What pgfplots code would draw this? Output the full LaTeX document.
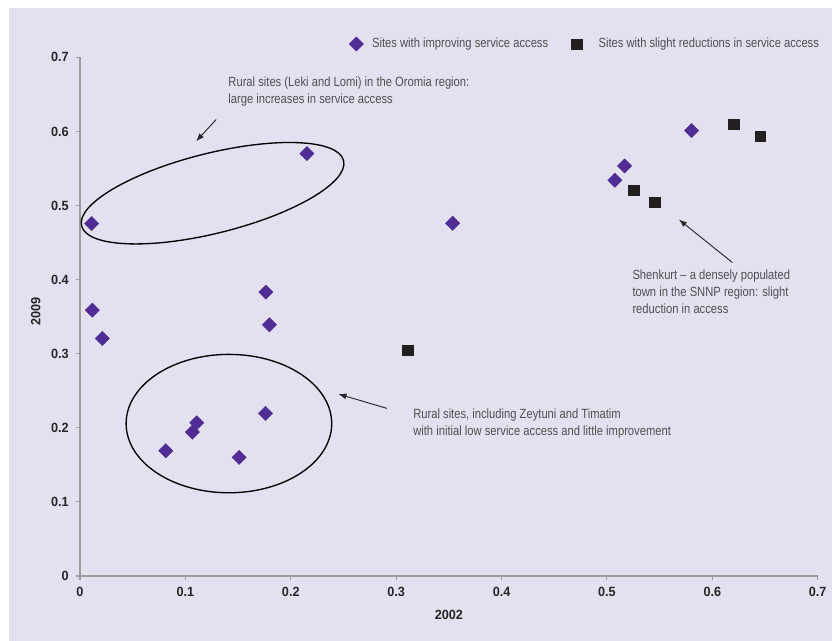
\documentclass[border=0pt]{standalone}
\usepackage{fontspec}
\setmainfont{Liberation Sans}
\newfontfamily\cond[FakeStretch=0.84]{Liberation Sans}
\newfontfamily\tickf[FakeStretch=0.95]{Liberation Sans}
\usepackage{pgfplots}
\pgfplotsset{compat=1.18}
\usetikzlibrary{arrows.meta}
\definecolor{bg}{RGB}{227,224,239}
\definecolor{purp}{RGB}{80,45,148}
\definecolor{blk}{RGB}{35,31,32}
\definecolor{axgray}{RGB}{155,155,155}
\definecolor{txt}{RGB}{80,80,80}
\begin{document}
\begin{tikzpicture}
\fill[white] (-60pt,-48.75pt) rectangle (564pt,432pt);
\fill[bg] (-53.25pt,-48.75pt) rectangle (564pt,426pt);
\begin{axis}[
  scale only axis, width=553.3pt, height=389pt,
  xmin=0, xmax=0.7, ymin=0, ymax=0.7,
  axis x line*=bottom, axis y line*=left,
  axis line style={axgray, line width=1.1pt},
  xtick={0,0.1,0.2,0.3,0.4,0.5,0.6,0.7},
  ytick={0,0.1,0.2,0.3,0.4,0.5,0.6,0.7},
  tick align=outside, major tick length=3pt,
  tick style={axgray, line width=0.8pt},
  /pgf/number format/.cd, fixed, precision=1, assume math mode=true, /pgfplots/.cd,
  ticklabel style={font=\tickf\bfseries\fontsize{10}{12}\selectfont, text=black!85},
  yticklabel style={xshift=-2pt},
  xticklabel style={yshift=-1.5pt},
  xlabel={2002}, ylabel={2009},
  label style={font=\tickf\bfseries\fontsize{10}{12}\selectfont, text=black!85},
  xlabel style={at={(axis description cs:0.5,-0.0752)}, anchor=center},
  ylabel style={at={(axis description cs:-0.060,0.5095)}, anchor=center, rotate=0},
  clip=false,
  legend columns=2, legend cell align=left,
  legend style={draw=none, fill=none, at={(0.3592,1.0257)}, anchor=west,
    font=\cond\fontsize{10}{12}\selectfont, text=txt,
    /tikz/every odd column/.append style={column sep=4.5pt},
    /tikz/every even column/.append style={column sep=15.5pt}},
]
\addplot[only marks, mark=square*, mark size=3.75pt, color=purp,
  mark options={rotate=45, fill=purp, draw=purp}] coordinates {
  (0.0111,0.4757) (0.2153,0.5701) (0.0117,0.3588) (0.0212,0.3206)
  (0.1764,0.3831) (0.1798,0.3390) (0.0814,0.1690) (0.1067,0.1942)
  (0.1108,0.2068) (0.1510,0.1601) (0.1760,0.2195) (0.3536,0.4761)
  (0.5075,0.5341) (0.5167,0.5534) (0.5803,0.6012)
};
\addlegendentry{Sites with improving service access}
\addplot[only marks, mark=square*, mark size=3.9pt, color=blk,
  mark options={fill=blk, draw=blk}] coordinates {
  (0.3109,0.3044) (0.5255,0.5202) (0.5455,0.5040) (0.6205,0.6093) (0.6452,0.5931)
};
\addlegendentry{\hspace*{6pt}Sites with slight reductions in service access}
% ellipses
\draw[black, line width=1pt, rotate around={14:(axis cs:0.1258,0.5166)}]
  (axis cs:0.1258,0.5166) ellipse [x radius=101.25pt, y radius=30pt];
\draw[black, line width=1pt]
  (axis cs:0.1413,0.2057) ellipse [x radius=77.1pt, y radius=51.9pt];
% arrows
\draw[black!85, line width=0.7pt, -{Latex[length=6pt,width=4.5pt]}]
  (axis cs:0.1292,0.6160) -- (axis cs:0.1102,0.5867);
\draw[black!85, line width=0.7pt, -{Latex[length=6pt,width=4.5pt]}]
  (axis cs:0.2913,0.2262) -- (axis cs:0.2453,0.2455);
\draw[black!85, line width=0.7pt, -{Latex[length=6pt,width=4.5pt]}]
  (axis cs:0.6190,0.4231) -- (axis cs:0.5682,0.4811);
% annotations
\begin{scope}[every node/.style={anchor=base west, inner sep=0pt, text=txt,
    font=\cond\fontsize{10}{12}\selectfont}]
\node at (axis cs:0.1406,0.6609) {Rural sites (Leki and Lomi) in the Oromia region:};
\node at (axis cs:0.1406,0.6380) {large increases in service access};
\node at (axis cs:0.3160,0.2122) {Rural sites, including Zeytuni and Timatim};
\node at (axis cs:0.3160,0.1898) {with initial low service access and little improvement};
\node at (axis cs:0.5240,0.4002) {Shenkurt – a densely populated};
\node at (axis cs:0.5240,0.3767) {town in the SNNP region: slight};
\node at (axis cs:0.5240,0.3538) {reduction in access};
\end{scope}
\end{axis}
\pgfresetboundingbox
\useasboundingbox (-60pt,-48.75pt) rectangle (564pt,432pt);
\end{tikzpicture}
\end{document}
